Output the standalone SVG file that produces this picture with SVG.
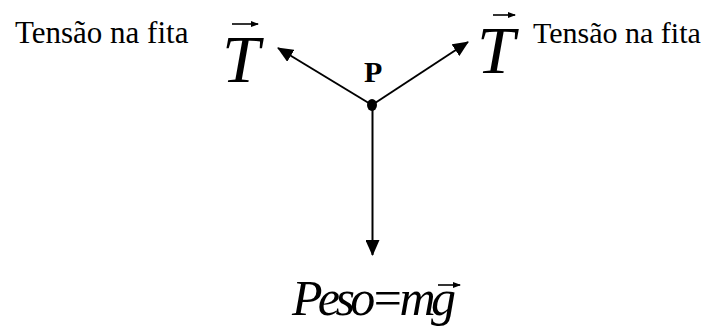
<svg xmlns="http://www.w3.org/2000/svg" width="717" height="329" viewBox="0 0 717 329">
<style>
text{font-family:'Liberation Serif','Times New Roman','DejaVu Serif',serif;fill:#000}
.lbl{font-size:30px}
.vec{font-style:italic;font-size:68px}
.bold{font-weight:bold;font-size:30px}
.conn{stroke:#000;stroke-width:2;fill:none}
.va{stroke:#000;stroke-width:1.6;fill:none}
</style>
<defs>
<marker id="ah" markerWidth="16" markerHeight="14" refX="15" refY="7" orient="auto" markerUnits="userSpaceOnUse">
<path d="M0,0 L16,7 L0,14 Z" fill="#000"/>
</marker>
<marker id="sa" markerWidth="8" markerHeight="6" refX="7" refY="3" orient="auto" markerUnits="userSpaceOnUse">
<path d="M0,0 L8,3 L0,6 Z" fill="#000"/>
</marker>
</defs>
<g id="connectors">
<line class="conn" x1="372" y1="105" x2="278" y2="48" marker-end="url(#ah)"/>
<line class="conn" x1="372" y1="105" x2="468" y2="42" marker-end="url(#ah)"/>
<line class="conn" x1="372.5" y1="105" x2="372.5" y2="255" marker-end="url(#ah)"/>
</g>
<g id="node-P">
<ellipse cx="372" cy="105" rx="5" ry="6" fill="#000"/>
<text class="bold" x="364" y="82">P</text>
</g>
<g id="node-T-left">
<text class="lbl" x="15" y="43" style="font-size:31px">Tensão na fita</text>
<text class="vec" x="222" y="82">T</text>
<line class="va" x1="232" y1="24" x2="258" y2="24" marker-end="url(#sa)"/>
</g>
<g id="node-T-right">
<text class="vec" x="477" y="73">T</text>
<line class="va" x1="493" y1="15" x2="515" y2="15" marker-end="url(#sa)"/>
<text class="lbl" x="533" y="43">Tensão na fita</text>
</g>
<g id="node-peso">
<text class="vec" style="font-size:50px" x="292" y="315" textLength="164" lengthAdjust="spacing">Peso=mg</text>
<line class="va" x1="438" y1="285" x2="460" y2="285" marker-end="url(#sa)"/>
</g>
</svg>
